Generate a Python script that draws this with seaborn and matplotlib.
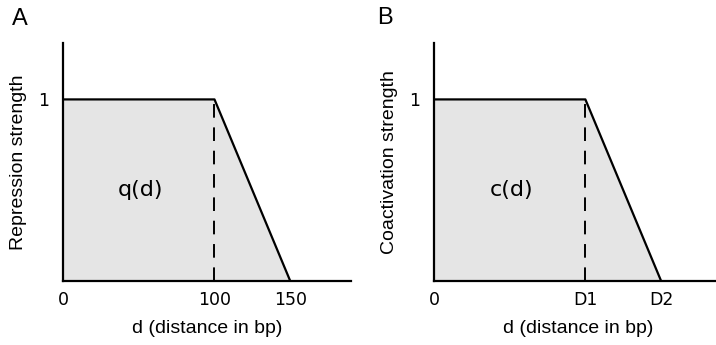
import matplotlib
matplotlib.use("Agg")
import matplotlib.pyplot as plt
import seaborn as sns
import pandas as pd

sns.set_style("white")
plt.rcParams["font.family"] = ["DejaVu Sans"]
plt.rcParams["text.color"] = "black"
plt.rcParams["axes.labelcolor"] = "black"
plt.rcParams["xtick.color"] = "black"
plt.rcParams["ytick.color"] = "black"

# Piecewise-linear strength profile: flat at 1 up to the first cutoff, then linear decay to 0
distance = [0, 100, 150]
strength = [1, 1, 0]
x_max = 190
y_max = 1.31

panel_letters = ["A", "B"]
y_labels = ["Repression strength", "Coactivation strength"]
curve_names = ["q(d)", "c(d)"]
x_tick_values = [0, 100, 150]
x_tick_labels = [["0", "100", "150"], ["0", "D1", "D2"]]
x_label = "d (distance in bp)"

fig = plt.figure(figsize=(7.16, 3.45), dpi=100)
axes = [
    fig.add_axes([0.088, 0.1855, 0.402, 0.6895]),
    fig.add_axes([0.606, 0.1855, 0.402, 0.6895]),
]
letter_pos = [(0.017, 0.945), (0.527, 0.948)]

df = pd.DataFrame({"d": distance, "s": strength})
label_font = dict(family=["Liberation Sans", "DejaVu Sans"], fontsize=14)

for ax, letter, pos, ylab, name, ticklabels in zip(
    axes, panel_letters, letter_pos, y_labels, curve_names, x_tick_labels
):
    ax.fill_between(df["d"], 0, df["s"], color="#e5e5e5", lw=0, zorder=1)
    sns.lineplot(data=df, x="d", y="s", ax=ax, color="black", lw=1.6,
                 sort=False, zorder=3)
    # dashed marker at the end of the plateau
    ax.plot([distance[1], distance[1]], [0, strength[1]], color="black",
            lw=1.4, ls=(0, (7, 5)), zorder=2)

    ax.set_xlim(0, x_max)
    ax.set_ylim(0, y_max)
    ax.set_xticks(x_tick_values)
    ax.set_xticklabels(ticklabels)
    ax.set_yticks([1])
    ax.set_yticklabels(["1"])
    ax.tick_params(axis="both", length=0, labelsize=12.5)
    ax.tick_params(axis="x", pad=7)
    ax.tick_params(axis="y", pad=10)

    for side in ("top", "right"):
        ax.spines[side].set_visible(False)
    for side in ("left", "bottom"):
        ax.spines[side].set_color("black")
        ax.spines[side].set_linewidth(1.6)

    ax.set_xlabel(x_label, labelpad=8, **label_font)
    ax.set_ylabel(ylab, labelpad=8, **label_font)

    ax.text(51, 0.5, name, fontsize=16, ha="center", va="center")
    fig.text(pos[0], pos[1], letter, ha="left", va="center",
             family=["Liberation Sans", "DejaVu Sans"], fontsize=17)

fig.savefig("out.png", dpi=100)
